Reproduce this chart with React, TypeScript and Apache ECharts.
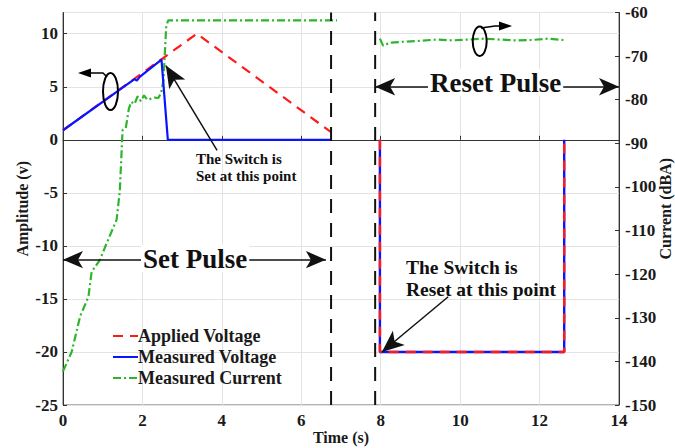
import React, { useEffect, useRef } from "react";
import * as echarts from "echarts";

// ---- data ----
const appliedSetT = [0, 3.37, 6.75];
const appliedSetV = [0.9, 10, 0.72];
const measuredSetT = [0, 1.8, 1.86, 1.94, 2.48, 2.64, 6.75];
const measuredSetV = [0.9, 5.72, 5.58, 5.95, 7.55, 0, 0];
const resetT = [7.98, 7.98, 12.62, 12.62];
const resetV = [0, -20, -20, 0];
const currentSetT = [0, 0.22, 0.43, 0.64, 0.72, 0.93, 1.1, 1.35, 1.43, 1.5, 1.58, 1.66, 1.72, 1.8, 1.88, 1.96, 2.04, 2.12, 2.2, 2.3, 2.4, 2.47, 2.53, 2.6, 2.65, 6.9];
const currentSetV = [-142.3, -137.8, -129.7, -125.2, -119.5, -116.7, -112.9, -107.5, -101, -87, -86.5, -82, -80.5, -81, -79.2, -80.3, -79, -80, -79.8, -79.5, -79.6, -78.5, -75.5, -63, -61.8, -61.8];
const currentResetT = [7.98, 8.06, 8.25, 8.6, 9.0, 9.4, 9.8, 10.2, 10.6, 11.0, 11.4, 11.8, 12.2, 12.6];
const currentResetV = [-66.0, -67.6, -66.9, -66.7, -66.5, -66.2, -66.4, -66.2, -66.0, -66.2, -66.4, -66.3, -66.0, -66.3];
const pulseBoundaries = [6.75, 7.86];
const legendNames = ["Applied Voltage", "Measured Voltage", "Measured Current"];

const FONT = "'Times New Roman', 'Liberation Serif', serif";
const zip = (t: number[], v: number[]) => t.map((x, i) => [x, v[i]]);

export default function App() {
  const ref = useRef<HTMLDivElement>(null);
  useEffect(() => {
    if (!ref.current) return;
    document.body.style.margin = "0";
    const chart = echarts.init(ref.current, undefined, { renderer: "svg" });
    const labelStyle = { color: "#1a1a1a", fontFamily: FONT, fontWeight: "bold" as const, fontSize: 17 };
    const red = "#ff1a1a";
    const blue = "#0a14ff";
    const green = "#2db52d";
    chart.setOption({
      animation: false,
      backgroundColor: "#fff",
      grid: { left: 63, right: 56, top: 12.5, bottom: 43, show: true, borderColor: "#666", borderWidth: 1, outerBoundsMode: "none", containLabel: false },
      legend: {
        data: legendNames,
        orient: "vertical",
        left: 112,
        top: 327,
        itemGap: 3,
        itemWidth: 25,
        itemHeight: 14,
        padding: 0,
        itemStyle: { opacity: 0 },
        textStyle: { ...labelStyle, fontSize: 18, padding: [0, 0, 0, -5] },
      },
      xAxis: {
        type: "value",
        min: 0,
        max: 14,
        interval: 2,
        name: "Time (s)",
        nameLocation: "middle",
        nameGap: 24,
        nameMoveOverlap: false,
        nameTextStyle: { ...labelStyle, fontSize: 16 },
        axisLine: { lineStyle: { color: "#333" } },
        axisTick: { inside: true, length: 4, lineStyle: { color: "#333" } },
        axisLabel: { ...labelStyle, margin: 7 },
        splitLine: { show: true, lineStyle: { color: "#e3e3e3" } },
      },
      yAxis: [
        {
          type: "value",
          min: -25,
          max: 12,
          interval: 5,
          name: "Amplitude (v)",
          nameLocation: "middle",
          nameGap: 33,
          nameMoveOverlap: false,
          nameTextStyle: { ...labelStyle, fontSize: 16 },
          axisLine: { show: true, lineStyle: { color: "#333" } },
          axisTick: { show: true, inside: true, length: 4, lineStyle: { color: "#333" } },
          axisLabel: { ...labelStyle, margin: 5, showMaxLabel: false },
          splitLine: { show: true, lineStyle: { color: "#e3e3e3" } },
        },
        {
          type: "value",
          min: -150,
          max: -60,
          interval: 10,
          position: "right",
          name: "Current (dBA)",
          nameLocation: "middle",
          nameGap: 38,
          nameMoveOverlap: false,
          nameTextStyle: { ...labelStyle, fontSize: 16 },
          axisLine: { show: true, lineStyle: { color: "#333" } },
          axisTick: { show: true, inside: true, length: 4, lineStyle: { color: "#333" } },
          axisLabel: { ...labelStyle, margin: 6 },
          splitLine: { show: false },
        },
      ],
      series: [
        {
          name: "Applied Voltage",
          type: "line",
          symbol: "none",
          data: zip(appliedSetT, appliedSetV),
          lineStyle: { color: red, width: 2.2, type: [10, 7] },
          itemStyle: { color: red },
          z: 3,
        },
        {
          name: "Measured Voltage",
          type: "line",
          symbol: "none",
          data: zip(measuredSetT, measuredSetV),
          lineStyle: { color: blue, width: 2.2 },
          itemStyle: { color: blue },
          z: 4,
        },
        {
          name: "Measured Voltage",
          type: "line",
          symbol: "none",
          data: zip(resetT, resetV),
          lineStyle: { color: blue, width: 2.4 },
          itemStyle: { color: blue },
          z: 4,
        },
        {
          name: "Applied Voltage",
          type: "line",
          symbol: "none",
          data: zip(resetT, resetV),
          lineStyle: { color: red, width: 2.4, type: [10, 7] },
          itemStyle: { color: red },
          z: 5,
        },
        {
          name: "Measured Current",
          type: "line",
          yAxisIndex: 1,
          symbol: "none",
          data: zip(currentSetT, currentSetV),
          lineStyle: { color: green, width: 2.2, type: [8, 3, 2, 3] },
          itemStyle: { color: green },
          z: 2,
        },
        {
          name: "Measured Current",
          type: "line",
          yAxisIndex: 1,
          symbol: "none",
          data: zip(currentResetT, currentResetV),
          lineStyle: { color: green, width: 2.2, type: [8, 3, 2, 3] },
          itemStyle: { color: green },
          z: 2,
        },
        {
          name: "boundary1",
          type: "line",
          symbol: "none",
          data: [[pulseBoundaries[0], -25], [pulseBoundaries[0], 12]],
          lineStyle: { color: "#111", width: 2, type: [14, 10] },
          z: 6,
          markLine: {
            silent: true,
            symbol: ["arrow", "arrow"],
            symbolSize: [13, 20],
            lineStyle: { color: "#111", width: 1.5, type: "solid" },
            label: { show: false },
            data: [
              [{ coord: [0, -11.3] }, { coord: [6.62, -11.3] }],
              [{ coord: [7.86, 5] }, { coord: [14, 5] }],
            ],
          },
        },
        {
          name: "boundary2",
          type: "line",
          symbol: "none",
          data: [[pulseBoundaries[1], -25], [pulseBoundaries[1], 12]],
          lineStyle: { color: "#111", width: 2, type: [14, 10] },
          z: 6,
          markLine: {
            silent: true,
            symbol: ["none", "arrow"],
            symbolSize: [14, 22],
            lineStyle: { color: "#111", width: 1.5, type: "solid" },
            label: { show: false },
            data: [
              [{ coord: [3.88, -1.0] }, { coord: [2.59, 7.0] }],
              [{ coord: [9.7, -14.8] }, { coord: [8.03, -20.0] }],
            ],
          },
        },
      ],
      graphic: [
        { type: "text", left: 141, top: 245, z: 100, style: { text: "Set Pulse", font: `bold 27px ${FONT}`, fill: "#111", backgroundColor: "#fff", padding: [0, 2] } },
        { type: "text", left: 428, top: 69, z: 100, style: { text: "Reset Pulse", font: `bold 27px ${FONT}`, fill: "#111", backgroundColor: "#fff", padding: [0, 2] } },
        { type: "text", left: 196, top: 150, z: 100, style: { text: "The Switch is\nSet at this point", font: `bold 15px ${FONT}`, fill: "#111", lineHeight: 17 } },
        { type: "text", left: 406, top: 256, z: 100, style: { text: "The Switch is\nReset at this point", font: `bold 19.5px ${FONT}`, fill: "#111", lineHeight: 22 } },
        // left-axis indicator
        { type: "ellipse", z: 100, shape: { cx: 110.5, cy: 91.5, rx: 7.5, ry: 18.5 }, style: { fill: "none", stroke: "#000", lineWidth: 2 } },
        { type: "polyline", z: 100, shape: { points: [[88, 73], [103, 73], [107, 77]] }, style: { fill: "none", stroke: "#000", lineWidth: 1.5 } },
        { type: "polygon", z: 100, shape: { points: [[78, 73], [91, 68.5], [91, 77.5]] }, style: { fill: "#000" } },
        // right-axis indicator
        { type: "ellipse", z: 100, shape: { cx: 479.7, cy: 41.3, rx: 7, ry: 14.7 }, style: { fill: "none", stroke: "#000", lineWidth: 2 } },
        { type: "polyline", z: 100, shape: { points: [[481, 28], [495, 26], [502, 26]] }, style: { fill: "none", stroke: "#000", lineWidth: 1.5 } },
        { type: "polygon", z: 100, shape: { points: [[512, 26], [499, 21.5], [499, 30.5]] }, style: { fill: "#000" } },
      ],
    });
    return () => chart.dispose();
  }, []);
  return <div ref={ref} style={{ width: 675, height: 448 }} />;
}
